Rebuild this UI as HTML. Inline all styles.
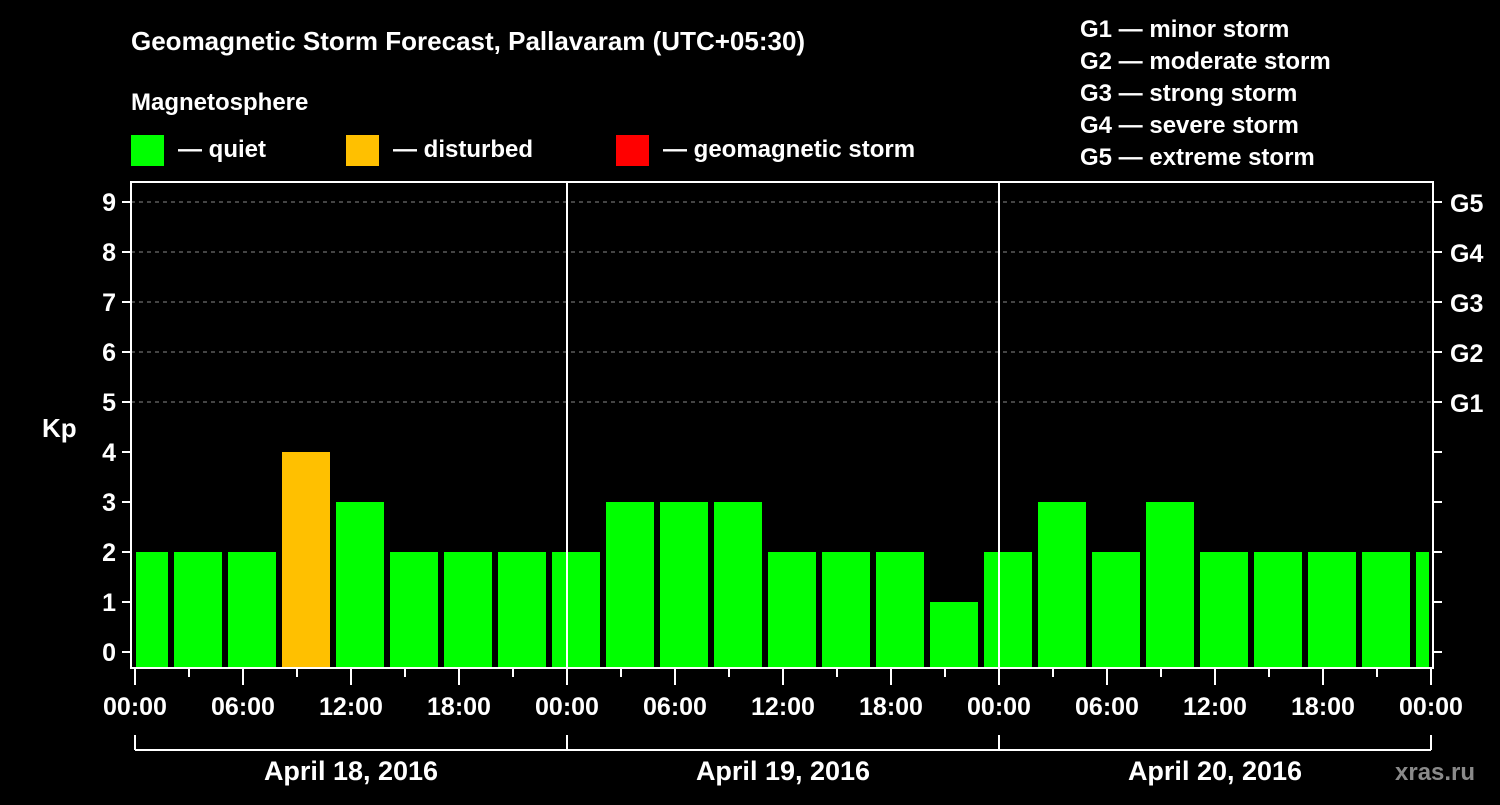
<!DOCTYPE html>
<html><head><meta charset="utf-8"><style>
body{margin:0;background:#000;}
svg text{font-family:"Liberation Sans",Arial,sans-serif;font-weight:bold;fill:#fff;}
</style></head><body>
<svg id="c" width="1500" height="800" viewBox="0 0 1500 800" xmlns="http://www.w3.org/2000/svg">
<rect width="1500" height="800" fill="#000"/>
<text x="131" y="50" font-size="26">Geomagnetic Storm Forecast, Pallavaram (UTC+05:30)</text>
<text x="131" y="110" font-size="24">Magnetosphere</text>
<g><rect x="131" y="135" width="33" height="31" fill="#00ff00"/><text x="178" y="157" font-size="24">— quiet</text></g>
<g><rect x="346" y="135" width="33" height="31" fill="#ffc000"/><text x="393" y="157" font-size="24">— disturbed</text></g>
<g><rect x="616" y="135" width="33" height="31" fill="#ff0000"/><text x="663" y="157" font-size="24">— geomagnetic storm</text></g>
<g font-size="24">
<text x="1080" y="37">G1 — minor storm</text>
<text x="1080" y="69">G2 — moderate storm</text>
<text x="1080" y="101">G3 — strong storm</text>
<text x="1080" y="133">G4 — severe storm</text>
<text x="1080" y="165">G5 — extreme storm</text>
</g>
<text x="42" y="437" font-size="26">Kp</text>
<g id="grid"></g><g id="bars"></g><g id="axes"></g>
<text x="1395" y="780" font-size="24" fill="#888" style="fill:#8a8a8a">xras.ru</text>
</svg>
<script>
const kpValues=[2,2,2,4,3,2,2,2,2,3,3,3,2,2,2,1,2,3,2,3,2,2,2,2,2];
const yTicks=[0,1,2,3,4,5,6,7,8,9];
const gLabels=["G1","G2","G3","G4","G5"];
const xTickLabels=["00:00","06:00","12:00","18:00","00:00","06:00","12:00","18:00","00:00","06:00","12:00","18:00","00:00"];
const dayLabels=["April 18, 2016","April 19, 2016","April 20, 2016"];
const firstBoundaryHours=2, binHours=3, totalHours=72;
const NS="http://www.w3.org/2000/svg";
const X0=135,PXH=18,Y0=652,PYU=50,BOT=668,TOP=182,L=131,R=1433;
const xs=h=>X0+h*PXH, ys=v=>Y0-v*PYU;
function mk(t,a,p){const e=document.createElementNS(NS,t);for(const k in a)e.setAttribute(k,a[k]);p.appendChild(e);return e;}
const grid=document.getElementById('grid'),bars=document.getElementById('bars'),axes=document.getElementById('axes');
for(let v=5;v<=9;v++){const l=mk('line',{x1:L,x2:R,y1:ys(v),y2:ys(v),stroke:'#888','stroke-dasharray':'4,4','stroke-width':1},grid);

}
kpValues.forEach((v,i)=>{
 let s=i==0?0:firstBoundaryHours+(i-1)*binHours, e=i==0?firstBoundaryHours:s+binHours;
 let x1=xs(s)+3,x2=Math.min(xs(e)-3,xs(totalHours)-2);
 if(i==0)x1=xs(s)+1;
 const c=v>=5?'#ff0000':(v>=4?'#ffc000':'#00ff00');
 const r=mk('rect',{x:x1,y:ys(v),width:x2-x1,height:BOT-ys(v),fill:c},bars);
 
 
});
mk('rect',{x:L,y:TOP,width:R-L,height:BOT-TOP,fill:'none',stroke:'#fff','stroke-width':2},axes);
[24,48].forEach(h=>mk('line',{x1:xs(h),x2:xs(h),y1:TOP,y2:BOT,stroke:'#fff','stroke-width':2},axes));
yTicks.forEach(v=>{
 mk('line',{x1:122,x2:L,y1:ys(v),y2:ys(v),stroke:'#fff','stroke-width':2},axes);
 mk('line',{x1:R,x2:1442,y1:ys(v),y2:ys(v),stroke:'#fff','stroke-width':2},axes);
 const t=mk('text',{x:116,y:ys(v)+9,'font-size':25,'text-anchor':'end'},axes);t.textContent=v;
 
 
});
gLabels.forEach((g,i)=>{const t=mk('text',{x:1450,y:ys(5+i)+10,'font-size':25},axes);t.textContent=g;
 
 });
for(let h=0;h<=totalHours;h+=3){mk('line',{x1:xs(h),x2:xs(h),y1:BOT,y2:h%6==0?685:677,stroke:'#fff','stroke-width':2},axes);}
xTickLabels.forEach((s,i)=>{const t=mk('text',{x:xs(i*6),y:715,'font-size':25,'text-anchor':'middle'},axes);t.textContent=s;
 
 });
mk('line',{x1:xs(0),x2:xs(72),y1:750,y2:750,stroke:'#fff','stroke-width':2},axes);
[0,24,48,72].forEach(h=>mk('line',{x1:xs(h),x2:xs(h),y1:735,y2:750,stroke:'#fff','stroke-width':2},axes));
dayLabels.forEach((d,i)=>{const t=mk('text',{x:xs(i*24+12),y:780,'font-size':27,'text-anchor':'middle'},axes);t.textContent=d;
 
 });
</script>
</body></html>
